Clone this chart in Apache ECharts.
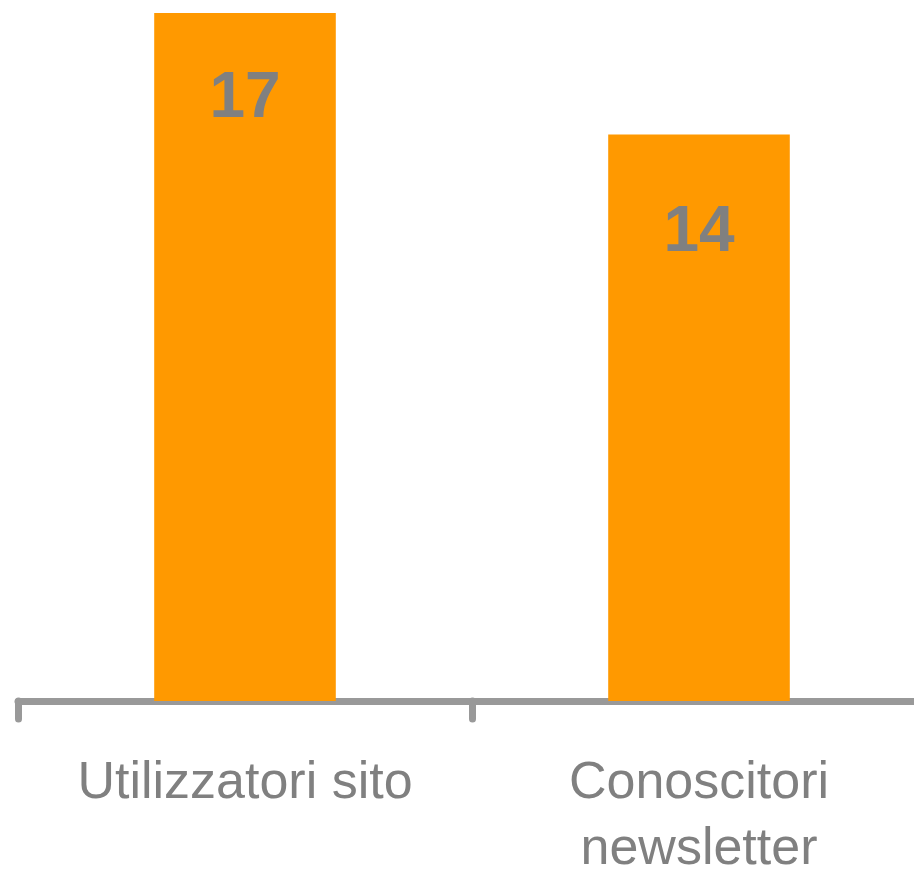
<!DOCTYPE html>
<html>
<head>
<meta charset="utf-8">
<style>
html,body{margin:0;padding:0;background:#fff;}
#chart{width:914px;height:872px;}
</style>
<script src="https://cdn.jsdelivr.net/npm/echarts@6/dist/echarts.min.js"></script>
</head>
<body>
<div id="chart"></div>
<script>
const categories = ['Utilizzatori sito', 'Conoscitori\nnewsletter'];
const values = [17, 14];
const labelDistances = [54, 67];

const chart = echarts.init(document.getElementById('chart'));
const font = '"Liberation Sans", Arial, sans-serif';
chart.setOption({
  animation: false,
  grid: { left: 18, width: 908, top: 13, height: 688, containLabel: false, outerBoundsMode: 'none' },
  xAxis: {
    type: 'category',
    data: categories,
    axisLine: { lineStyle: { color: '#999999', width: 7 } },
    axisTick: { show: true, length: 18, lineStyle: { color: '#999999', width: 7, cap: 'round' } },
    axisLabel: {
      margin: 50,
      color: '#808080',
      fontSize: 52,
      fontFamily: font,
      lineHeight: 66
    }
  },
  yAxis: {
    type: 'value',
    min: 0,
    max: 17,
    show: false,
    splitLine: { show: false }
  },
  series: [{
    type: 'bar',
    barWidth: '40%',
    itemStyle: { color: '#FF9900' },
    data: values.map((v, i) => ({
      value: v,
      label: { distance: labelDistances[i] }
    })),
    label: {
      show: true,
      position: 'insideTop',
      color: '#808080',
      fontSize: 64,
      fontWeight: 'bold',
      fontFamily: font
    }
  }]
});
</script>
</body>
</html>
